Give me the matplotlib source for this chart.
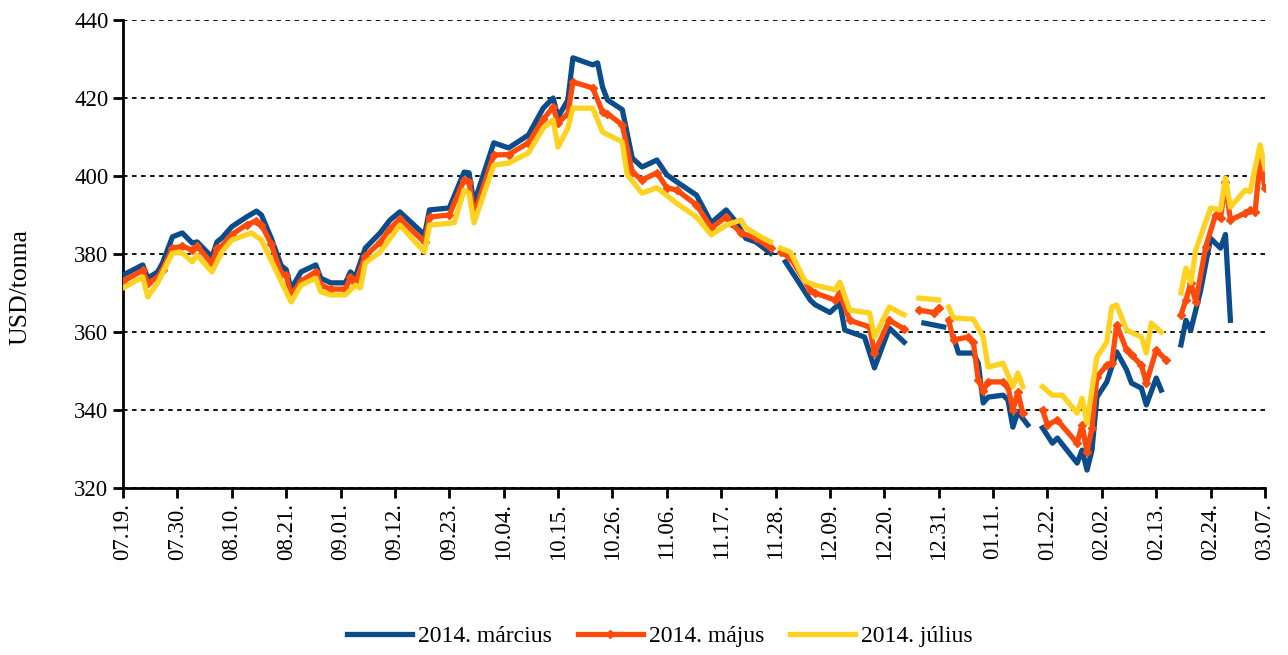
import datetime
import numpy as np
import matplotlib
matplotlib.use('Agg')
import matplotlib.pyplot as plt
import matplotlib.dates as mdates

plt.rcParams['font.family'] = ['Liberation Serif', 'DejaVu Serif']

# napok 2013.07.19-tol, NaN = hianyzo adat (unnep)
start = datetime.datetime(2013, 7, 19)
nan = np.nan

marc_nap = [0, 4, 5, 7, 8, 10, 12, 14, 15, 18, 19, 20, 22, 25, 27, 28, 30, 32, 33, 34,
            36, 39, 40, 42, 45, 46, 47, 49, 52, 54, 56, 61, 62, 66, 69, 70, 71, 75, 78, 82,
            85, 87, 88, 90, 91, 95, 96, 97, 98, 101, 103, 105, 108, 110, 112, 116, 119, 122, 124, 126,
            128, 131, 132, 134, 136, 139, 140, 143, 145, 146, 150, 152, 155, 158, 160, 162, 166, 167, 168, 169,
            172, 173, 174, 175, 178, 179, 180, 181, 183, 184, 186, 188, 189, 193, 194, 195, 196, 197, 199, 201,
            203, 204, 206, 207, 209, 210, 212, 214, 215, 216, 218, 220, 222, 223, 224]
marc = [374.6, 377.2, 373.8, 375.4, 377.7, 384.4, 385.4, 382.8, 383.1, 379.2, 383.1, 384.1, 387.0, 389.5, 391.0, 390.0, 384.0, 377.0, 376.0, 371.0,
        375.4, 377.2, 373.8, 372.6, 372.6, 375.4, 374.1, 381.5, 385.4, 388.7, 390.8, 384.9, 391.3, 391.8, 401.0, 400.8, 393.0, 408.5, 407.2, 410.5,
        417.4, 420.0, 415.1, 419.5, 430.3, 428.5, 429.0, 422.8, 419.5, 417.0, 404.6, 402.3, 404.1, 400.3, 398.5, 395.1, 388.0, 391.3, 388.2, 384.0,
        383.1, 380.2, nan, 378.0, 374.1, 368.2, 367.0, 365.0, 367.4, 360.5, 358.7, 350.8, 361.0, 357.4, nan, 362.3, 361.3, nan, 358.7, 354.6,
        354.6, 352.0, 341.8, 343.3, 343.8, 342.6, 335.6, 339.5, 336.2, nan, 335.4, 331.5, 332.8, 326.4, 329.7, 324.6, 329.7, 343.3, 347.2, 354.9,
        350.3, 346.9, 345.6, 341.3, 348.2, 345.1, nan, 356.7, 363.0, 360.5, 370.8, 384.0, 381.5, 385.0, 363.0]

maj_nap = [0, 4, 5, 7, 8, 10, 12, 14, 15, 18, 19, 20, 22, 25, 27, 28, 30, 32, 33, 34,
           36, 39, 40, 42, 45, 46, 47, 49, 52, 54, 56, 61, 62, 66, 69, 70, 71, 75, 78, 82,
           85, 87, 88, 90, 91, 95, 97, 98, 101, 103, 105, 108, 110, 112, 116, 119, 122, 123, 125, 128,
           131, 132, 133, 135, 139, 140, 144, 145, 147, 151, 152, 155, 158, 159, 161, 164, 165, 166, 167, 168,
           171, 172, 173, 174, 175, 178, 179, 180, 181, 182, 184, 186, 187, 189, 193, 194, 195, 196, 197, 199,
           200, 201, 203, 204, 206, 207, 209, 211, 212, 214, 215, 216, 217, 219, 221, 222, 223, 224, 227, 228,
           229, 230, 231]
maj = [373.0, 375.8, 372.5, 374.0, 376.0, 381.5, 382.0, 381.0, 382.0, 377.5, 381.5, 382.0, 385.0, 387.5, 388.5, 387.5, 382.5, 375.0, 374.5, 369.5,
       373.0, 375.5, 372.0, 371.0, 371.0, 374.0, 372.5, 379.5, 383.0, 386.5, 389.0, 383.0, 389.5, 390.0, 399.0, 398.5, 390.0, 405.4, 405.5, 408.5,
       414.5, 417.7, 413.6, 416.0, 424.1, 422.6, 416.4, 416.0, 413.1, 401.0, 399.0, 400.8, 397.0, 396.4, 392.6, 386.7, 389.5, 387.9, 385.4, 384.1,
       381.5, nan, 380.5, 379.0, 370.8, 370.0, 368.2, 370.0, 363.0, 361.3, 354.6, 363.0, 360.8, nan, 365.6, 365.0, 366.2, nan, 363.0, 358.0,
       358.7, 357.4, 347.7, 345.0, 347.2, 347.2, 346.0, 340.0, 344.6, 339.2, nan, 340.0, 336.2, 337.4, 331.5, 336.2, 329.2, 335.4, 348.5, 351.5,
       352.0, 361.8, 355.4, 354.1, 351.5, 346.9, 355.4, 352.8, nan, 364.4, 368.2, 372.6, 367.7, 381.8, 390.0, 389.2, 398.5, 388.7, 390.5, 391.3,
       390.8, 404.0, 396.9]

jul_nap = [0, 4, 5, 7, 10, 12, 14, 15, 18, 20, 22, 26, 28, 34, 36, 39, 40, 42, 45, 47,
           48, 49, 52, 56, 61, 62, 67, 69, 70, 71, 75, 78, 82, 85, 87, 88, 90, 91, 95, 97,
           101, 102, 105, 108, 112, 116, 119, 122, 125, 126, 129, 131, 132, 133, 135, 138, 140, 144, 145, 147,
           151, 152, 155, 158, 159, 161, 165, 166, 167, 168, 172, 174, 175, 178, 180, 181, 182, 184, 186, 188,
           190, 193, 194, 195, 197, 199, 200, 201, 203, 206, 207, 208, 210, 212, 214, 215, 216, 217, 220, 222,
           223, 224, 227, 228, 230, 231]
jul = [371.3, 374.1, 369.0, 372.6, 380.3, 380.3, 378.0, 379.7, 375.4, 380.5, 383.6, 385.4, 383.6, 367.7, 372.0, 373.8, 370.3, 369.5, 369.5, 372.0,
       371.3, 377.7, 380.5, 387.4, 380.5, 387.4, 388.0, 396.4, 395.6, 388.0, 402.8, 403.3, 405.9, 412.3, 414.4, 407.4, 412.3, 417.4, 417.4, 411.3,
       408.7, 400.3, 395.6, 397.0, 393.0, 389.5, 384.9, 387.4, 388.7, 386.7, 384.4, 383.1, nan, 381.5, 380.5, 373.0, 372.0, 370.8, 372.8, 365.6,
       364.9, 358.7, 366.4, 364.4, nan, 368.7, 368.2, nan, 366.4, 363.6, 363.3, 358.7, 351.0, 352.0, 346.0, 349.5, 346.0, nan, 346.0, 343.8,
       343.8, 339.2, 343.0, 336.7, 353.6, 357.4, 366.4, 366.9, 360.5, 358.7, 354.6, 362.3, 360.0, nan, 370.0, 376.4, 372.6, 381.0, 391.8, 391.3,
       399.5, 392.0, 396.4, 396.0, 408.0, 402.0]

nevek = ['2014. március', '2014. május', '2014. július']
szinek = ['#0B4C8C', '#FF4A0A', '#FFD21F']


def datumok(napok):
    return [start + datetime.timedelta(days=n) for n in napok]


fig = plt.figure(figsize=(12.88, 6.55), dpi=100)
ax = fig.add_axes([123 / 1288, 1 - 488 / 655, (1265 - 123) / 1288, (488 - 20) / 655])

ax.plot(datumok(marc_nap), marc, color=szinek[0], lw=3.8, label=nevek[0], zorder=3)
ax.plot(datumok(maj_nap), maj, color=szinek[1], lw=3.8, marker='D', markersize=4,
        label=nevek[1], zorder=4)
ax.plot(datumok(jul_nap), jul, color=szinek[2], lw=3.8, label=nevek[2], zorder=5)

ax.set_ylim(320, 440)
ax.set_yticks(range(320, 441, 20))
ax.set_xlim(start, start + datetime.timedelta(days=231))
ax.set_xticks(datumok(range(0, 232, 11)))
ax.xaxis.set_major_formatter(mdates.DateFormatter('%m.%d.'))
plt.setp(ax.get_xticklabels(), rotation=90)

ax.grid(axis='y', color='black', linestyle=(0, (2.5, 2.5)), linewidth=1.3)
ax.set_axisbelow(True)
for s in ['top', 'right']:
    ax.spines[s].set_visible(False)
ax.spines['left'].set_linewidth(2)
ax.spines['bottom'].set_linewidth(2)
ax.tick_params(axis='both', labelsize=16.5, width=2, length=7, direction='out')
ax.tick_params(axis='x', pad=4)

fig.text(20 / 1288, 1 - 287 / 655, 'USD/tonna', rotation=90, fontsize=18.5,
         ha='center', va='center')

fig.legend(loc='center', bbox_to_anchor=(660 / 1288, 1 - 636 / 655), ncol=3, frameon=False,
           fontsize=17, handlelength=2.75, columnspacing=1.1, handletextpad=0.25)

fig.savefig('out.png', dpi=100)
